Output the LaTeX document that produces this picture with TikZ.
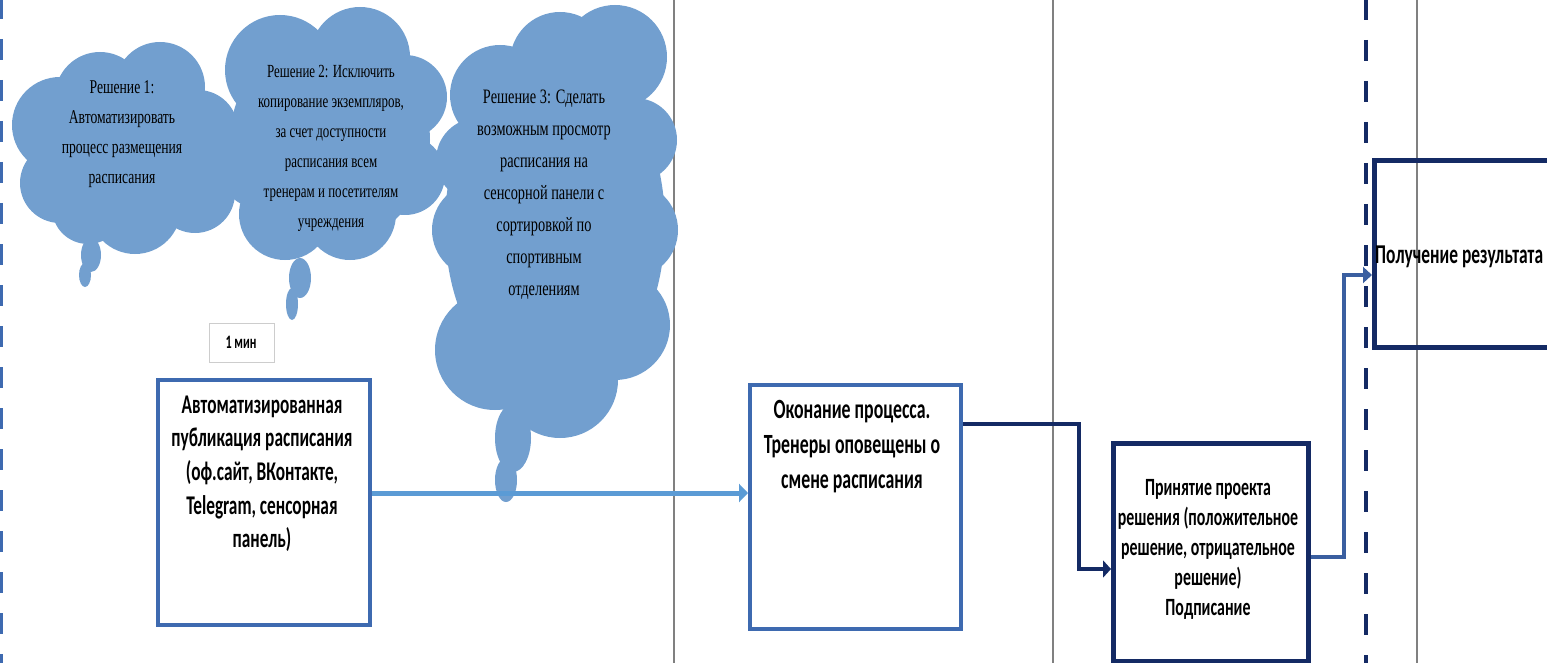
\documentclass[tikz,border=0pt]{standalone}
\usepackage{fontspec}
\newfontfamily\boxfont{Carlito}[FakeStretch=0.64]
\newfontfamily\cloudfont{Liberation Serif}[FakeStretch=0.70]
\usetikzlibrary{arrows.meta}
\definecolor{cloudblue}{RGB}{114,159,207}
\definecolor{frameblue}{RGB}{62,106,176}
\definecolor{navy}{RGB}{20,42,100}
\definecolor{lightflow}{RGB}{91,155,213}
\definecolor{midflow}{RGB}{58,95,160}
\definecolor{lanegray}{RGB}{128,128,128}
\definecolor{tagframe}{RGB}{205,205,205}

\tikzset{
  lane/.style={draw=lanegray, line width=1.2pt},
  border/.style={line width=3pt, dash pattern=on 21pt off 20pt},
  puff/.style={fill=cloudblue},
  procbox/.style={draw, line width=4pt, inner sep=0pt, anchor=north west},
  boxtext/.style={align=center, inner sep=0pt, anchor=north},
  cloudtext/.style={align=center, inner sep=0pt, anchor=north},
  flowlight/.style={draw=lightflow, line width=5pt, -{Triangle[length=9pt,width=18pt]}},
  flownavy/.style={draw=navy, line width=4.5pt, -{Triangle[length=8pt,width=17pt]}},
  flowmid/.style={draw=midflow, line width=3.5pt, -{Triangle[length=9pt,width=16pt]}},
}

\begin{document}
\begin{tikzpicture}[x=1pt,y=-1pt]
\useasboundingbox (0,0) rectangle (1547,663);
\clip (0,0) rectangle (1547,663);

% swimlane separators
\draw[lane] (674,0) -- (674,663);
\draw[lane] (1053,0) -- (1053,663);
\draw[lane] (1417,0) -- (1417,663);
\draw[border, draw=frameblue, dash phase=2pt] (1.5,0) -- (1.5,663);
\draw[border, draw=navy, line width=3.5pt, dash phase=1pt] (1366,0) -- (1366,663);

% thought cloud 1
\fill[puff] (128,150) ellipse [x radius=100, y radius=85];
\fill[puff] (60,125) circle [radius=48];
\fill[puff] (60,183) circle [radius=40];
\fill[puff] (100,97) circle [radius=45];
\fill[puff] (160,87) circle [radius=45];
\fill[puff] (198,130) circle [radius=40];
\fill[puff] (195,193) circle [radius=40];
\fill[puff] (135,208) circle [radius=46];
\fill[puff] (88,208) circle [radius=36];
\fill[puff] (91,255) ellipse [x radius=10, y radius=17];
\fill[puff] (85,275) ellipse [x radius=6, y radius=12];

% thought cloud 2
\fill[puff] (330,140) ellipse [x radius=100, y radius=105];
\fill[puff] (280,70) circle [radius=55];
\fill[puff] (360,57) circle [radius=50];
\fill[puff] (405,97) circle [radius=42];
\fill[puff] (265,160) circle [radius=50];
\fill[puff] (285,214) circle [radius=46];
\fill[puff] (350,214) circle [radius=46];
\fill[puff] (405,175) circle [radius=40];
\fill[puff] (300,278) ellipse [x radius=11, y radius=20];
\fill[puff] (292,304) ellipse [x radius=6, y radius=16];

% thought cloud 3
\fill[puff] (555,225) ellipse [x radius=110, y radius=170];
\fill[puff] (500,95) circle [radius=50];
\fill[puff] (560,62) circle [radius=50];
\fill[puff] (615,57) circle [radius=52];
\fill[puff] (635,140) circle [radius=42];
\fill[puff] (630,230) circle [radius=48];
\fill[puff] (615,325) circle [radius=55];
\fill[puff] (560,380) circle [radius=58];
\fill[puff] (495,350) circle [radius=60];
\fill[puff] (480,230) circle [radius=48];
\fill[puff] (478,160) circle [radius=42];
\fill[puff] (513,438) ellipse [x radius=18, y radius=34];
\fill[puff] (506,480) ellipse [x radius=11, y radius=22];

\node[cloudtext, font=\cloudfont\fontsize{19.5}{30}\selectfont] (idea1) at (122,72) {\strut Решение 1:\\Автоматизировать\\процесс размещения\\расписания};
\node[cloudtext, font=\cloudfont\fontsize{18.5}{30}\selectfont] (idea2) at (331,56) {\strut Решение 2: Исключить\\копирование экземпляров,\\за счет доступности\\расписания всем\\тренерам и посетителям\\учреждения};
\node[cloudtext, font=\cloudfont\fontsize{20.5}{32}\selectfont] (idea3) at (544,80.6) {\strut Решение 3: Сделать\\возможным просмотр\\расписания на\\сенсорной панели с\\сортировкой по\\спортивным\\отделениям};

% duration tag
\node[draw=tagframe, line width=1pt, minimum width=65pt, minimum height=39pt, inner sep=0pt, anchor=north west] (tag) at (209,323) {};
\node[anchor=base, inner sep=0pt, font=\boxfont\bfseries\fontsize{19}{22}\selectfont] (tagtext) at (241,348) {1 мин};

% process boxes
\node[procbox, draw=frameblue, minimum width=212pt, minimum height=245pt] (pubbox) at (156,378) {};
\node[boxtext, font=\boxfont\bfseries\fontsize{27}{33.7}\selectfont] (pubtext) at (262,389.4) {\strut Автоматизированная\\публикация расписания\\(оф.сайт, ВКонтакте,\\Telegram, сенсорная\\панель)};

\node[procbox, draw=frameblue, minimum width=211pt, minimum height=244pt] (endbox) at (748,383) {};
\node[boxtext, font=\boxfont\bfseries\fontsize{27.8}{35}\selectfont] (endtext) at (852,393.5) {\strut Оконание процесса.\\Тренеры оповещены о\\смене расписания};

\node[procbox, draw=navy, line width=5pt, minimum width=195pt, minimum height=218pt] (decbox) at (1111,441) {};
\node[boxtext, font=\boxfont\bfseries\fontsize{24.8}{30}\selectfont] (dectext) at (1208,474) {\strut Принятие проекта\\решения (положительное\\решение, отрицательное\\решение)\\Подписание};

\node[procbox, draw=navy, line width=5pt, minimum width=300pt, minimum height=187pt] (resbox) at (1372,158) {};
\node[anchor=base west, inner sep=0pt, font=\boxfont\bfseries\fontsize{27.2}{35}\selectfont] (restext) at (1375,263) {Получение результата};

% connectors
\draw[flowlight] (pubbox.east |- 0,493) -- (endbox.west |- 0,493);
\draw[flownavy] (endbox.east |- 0,424) -- ++(116,0) |- (decbox.west |- 0,569);
\draw[flowmid] (decbox.east |- 0,557) -- ++(33,0) |- (resbox.west |- 0,275);
\end{tikzpicture}
\end{document}
